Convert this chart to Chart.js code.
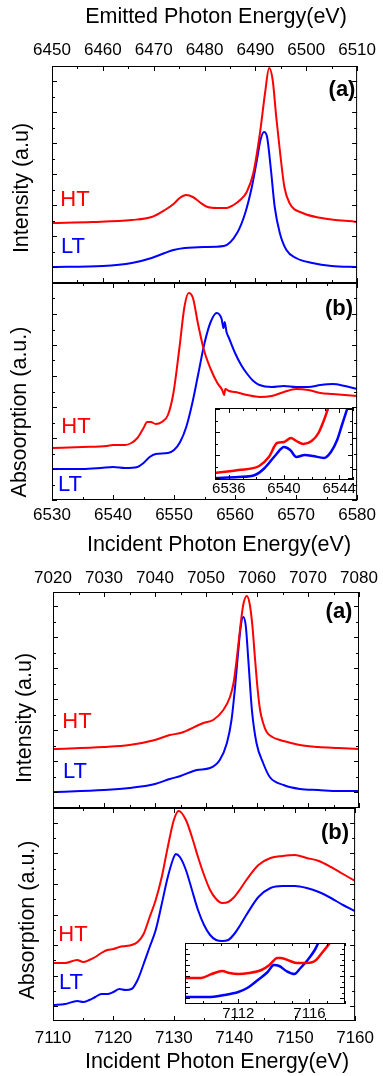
<!DOCTYPE html>
<html>
<head>
<meta charset="utf-8">
<script src="https://cdn.jsdelivr.net/npm/chart.js@4.4.1/dist/chart.umd.min.js"></script>
<style>
    html, body { margin: 0; padding: 0; background: #fff; }
    body { position: relative; width: 383px; height: 1076px; overflow: hidden; }
    canvas { position: absolute; }
</style>
</head>
<body>
<canvas id="mnEmit"></canvas>
<canvas id="mnAbs"></canvas>
<canvas id="mnInset"></canvas>
<canvas id="feEmit"></canvas>
<canvas id="feAbs"></canvas>
<canvas id="feInset"></canvas>
<script>
// ---- upper figure, (a) emission ----
const mnEmitTicks = [6450, 6460, 6470, 6480, 6490, 6500, 6510];
const mnEmitHT_E = [6450, 6458, 6465.7, 6469.6, 6472.2, 6473.9, 6475.1, 6476.4, 6477.7, 6479, 6480.6, 6482.5, 6484.4, 6485.7, 6487, 6488.3, 6489.6, 6490.9, 6491.9, 6492.7, 6493.4, 6494.1, 6494.8, 6495.7, 6496.7, 6499.3, 6503, 6510];
const mnEmitHT = [60, 61, 63, 66, 73, 79, 85, 88, 86, 81, 76, 75, 75, 78, 83, 91, 110, 150, 190, 215, 203, 166, 133, 96, 80, 70, 65, 61];
const mnEmitLT_E = [6450, 6460, 6465.7, 6469.6, 6472.2, 6473.9, 6476.1, 6479.9, 6483.8, 6486.4, 6488, 6489.3, 6490.3, 6491, 6491.7, 6492.3, 6493, 6493.8, 6494.8, 6496.1, 6498, 6501.2, 6505, 6510];
const mnEmitLT = [16, 17, 20, 25, 30, 33, 35, 36, 37, 50, 70, 96, 123, 143, 151, 146, 116, 76, 50, 33, 25, 20, 17, 16];

// ---- upper figure, (b) absorption ----
const mnAbsTicks = [6530, 6540, 6550, 6560, 6570, 6580];
const mnAbsHT_E = [6530, 6535, 6539, 6540, 6542, 6543, 6544, 6545, 6545.6, 6546.2, 6547, 6548, 6549, 6549.9, 6550.9, 6551.7, 6552.4, 6553.1, 6553.9, 6554.9, 6556, 6557.1, 6557.9, 6558.2, 6558.4, 6559, 6560, 6562, 6564, 6566, 6568, 6570, 6572, 6574, 6576, 6578, 6580];
const mnAbsHT = [52, 53, 54, 55, 55, 57, 62, 72, 78, 78, 76, 78, 85, 107, 153, 193, 207, 202, 177, 150, 131, 117, 110, 105, 111, 109, 108, 105, 103, 104, 108, 111, 110, 107, 106, 105, 104];
const mnAbsLT_E = [6530, 6535, 6538, 6540, 6542, 6544, 6545, 6546, 6547, 6549, 6550, 6551, 6552, 6553, 6554, 6555, 6556, 6557, 6557.8, 6558.1, 6558.3, 6558.6, 6559, 6560, 6561, 6562, 6563, 6564, 6566, 6568, 6570, 6572, 6574, 6576, 6578, 6580];
const mnAbsLT = [31, 31, 32, 33, 32, 33, 37, 43, 46, 47, 50, 58, 73, 97, 127, 157, 178, 187, 181, 172, 178, 168, 162, 147, 135, 126, 119, 115, 113, 114, 113, 113, 115, 116, 114, 111];

// inset: pre-edge
const mnInsetTicks = [6536, 6540, 6544];
const mnInsetHT_E = [6535, 6536.7, 6538.2, 6538.9, 6539.5, 6540, 6540.5, 6540.9, 6541.4, 6542, 6542.5, 6542.9, 6543.2, 6543.5];
const mnInsetHT = [7, 10, 14, 23, 37, 38, 42, 39, 36, 39, 47, 60, 72, 85];
const mnInsetLT_E = [6535, 6536.7, 6537.9, 6538.6, 6539.4, 6540, 6540.45, 6540.9, 6541.5, 6542.1, 6542.9, 6543.4, 6543.85, 6544.2, 6544.6, 6544.9];
const mnInsetLT = [2, 3, 5, 12, 25, 33, 30, 23, 25, 24, 22, 28, 40, 55, 72, 85];

// ---- lower figure, (a) emission ----
const feEmitTicks = [7020, 7030, 7040, 7050, 7060, 7070, 7080];
const feEmitHT_E = [7020, 7030, 7035, 7040, 7042.9, 7045, 7049.5, 7051.4, 7053.4, 7054.7, 7055.4, 7056, 7056.7, 7057.3, 7058, 7058.6, 7059.1, 7059.6, 7060.1, 7060.6, 7061.2, 7061.9, 7063, 7064.5, 7066, 7068.4, 7072, 7076, 7080];
const feEmitHT = [59, 61, 63, 68, 73, 75, 85, 88, 98, 111, 125, 148, 180, 203, 212, 203, 182, 150, 120, 98, 85, 76, 71, 68, 66, 63, 61, 60, 59];
const feEmitLT_E = [7020, 7030, 7035, 7040, 7042.9, 7045, 7048.2, 7050.8, 7052.7, 7054.1, 7055, 7055.7, 7056.2, 7056.8, 7057.3, 7057.8, 7058.3, 7059, 7059.9, 7061.2, 7062.5, 7065.2, 7068.4, 7072, 7076, 7080];
const feEmitLT = [16, 18, 20, 24, 29, 32, 38, 40, 48, 65, 88, 121, 150, 181, 191, 182, 148, 98, 65, 45, 31, 23, 19, 18, 17, 17];

// ---- lower figure, (b) absorption ----
const feAbsTicks = [7110, 7120, 7130, 7140, 7150, 7160];
const feAbsHT_E = [7110, 7112, 7114, 7115, 7116, 7117, 7118, 7119, 7120, 7121, 7122, 7123, 7124, 7125, 7126, 7127, 7128, 7129, 7130, 7130.8, 7132, 7133, 7134, 7135, 7136, 7137, 7138, 7139, 7140, 7141, 7142, 7144, 7146, 7148, 7150, 7152, 7154, 7156, 7158, 7160];
const feAbsHT = [58, 58, 61, 59, 61, 64, 68, 71, 72, 74, 75, 76, 79, 87, 104, 121, 144, 174, 201, 210, 201, 184, 164, 146, 131, 122, 118, 119, 124, 132, 141, 156, 163, 165, 166, 163, 160, 154, 147, 140];
const feAbsLT_E = [7110, 7112, 7114, 7115, 7116, 7117, 7118, 7119, 7120, 7121, 7122, 7123, 7124, 7125, 7126, 7127, 7128, 7129, 7130, 7130.3, 7131, 7132, 7133, 7134, 7135, 7136, 7137, 7138, 7139, 7140, 7141, 7142, 7144, 7146, 7148, 7150, 7152, 7154, 7156, 7158, 7160];
const feAbsLT = [16, 17, 20, 19, 21, 24, 27, 27, 29, 32, 31, 32, 41, 57, 74, 91, 117, 144, 164, 167, 164, 151, 131, 111, 96, 86, 81, 80, 81, 87, 96, 106, 124, 133, 135, 135, 133, 129, 123, 116, 110];

// inset: pre-edge
const feInsetTicks = [7112, 7116];
const feInsetHT_E = [7109, 7109.9, 7110.5, 7111.1, 7111.5, 7112, 7112.6, 7113.3, 7113.75, 7114.2, 7114.4, 7114.9, 7115.3, 7115.8, 7116.3, 7116.7, 7117.1, 7117.5];
const feInsetHT = [26, 26, 30, 33, 31, 30, 31, 34, 39, 46, 46, 43, 41, 41, 43, 51, 60, 70];
const feInsetLT_E = [7109, 7110.3, 7111.2, 7112, 7112.5, 7113.1, 7113.65, 7114, 7114.3, 7114.7, 7115.15, 7115.5, 7115.9, 7116.3, 7116.5, 7116.8];
const feInsetLT = [7, 7, 9, 12, 16, 24, 32, 39, 38, 33, 30, 36, 44, 54, 61, 70];

const RED = '#ff0000';
const BLUE = '#0000ff';
const SANS = '"Liberation Sans", Arial, sans-serif';
const TITLE_FONT = '21.5px ' + SANS;
const TAG_FONT = '22px ' + SANS;
const PANEL_FONT = 'bold 22px ' + SANS;

// frame with inward ticks on all four sides, plus free text labels
const framePlugin = {
    id: 'frame',
    beforeDatasetsDraw(chart, args, o) {
        if (!o.fill) return;
        const { ctx, chartArea: a } = chart;
        ctx.save();
        ctx.fillStyle = '#fff';
        ctx.fillRect(a.left, a.top, a.width, a.height);
        ctx.restore();
    },
    afterDraw(chart, args, o) {
        const { ctx, chartArea: a, scales: { x, y } } = chart;
        ctx.save();
        ctx.strokeStyle = '#000';
        ctx.lineWidth = 1;
        ctx.beginPath();
        const xMarks = (first, step, len) => {
            for (let v = first; v <= x.max + 1e-6; v += step) {
                const p = Math.round(x.getPixelForValue(v)) + 0.5;
                ctx.moveTo(p, a.top); ctx.lineTo(p, a.top + len);
                ctx.moveTo(p, a.bottom); ctx.lineTo(p, a.bottom - len);
            }
        };
        const yMarks = (first, step, len) => {
            for (let v = first; v <= y.max + 1e-6; v += step) {
                const p = Math.round(y.getPixelForValue(v)) + 0.5;
                ctx.moveTo(a.left, p); ctx.lineTo(a.left + len, p);
                ctx.moveTo(a.right, p); ctx.lineTo(a.right - len, p);
            }
        };
        xMarks(o.xMinor[0], o.xMinor[1], 3);
        xMarks(o.xMajor[0], o.xMajor[1], 5);
        yMarks(o.yMajor[0] + o.yMajor[1] / 2, o.yMajor[1], 3);
        yMarks(o.yMajor[0], o.yMajor[1], 5);
        ctx.stroke();
        ctx.strokeRect(a.left + 0.5, a.top + 0.5, a.width - 1, a.height - 1);

        ctx.textAlign = 'center';
        ctx.textBaseline = 'middle';
        for (const t of o.texts || []) {
            ctx.save();
            ctx.translate(t.x - o.offX, t.y - o.offY);
            if (t.rot) ctx.rotate(-Math.PI / 2);
            ctx.font = t.font;
            ctx.fillStyle = t.color || '#000';
            ctx.fillText(t.text, 0, 0);
            ctx.restore();
        }
        ctx.restore();
    },
};

function pts(xs, ys) {
    return xs.map((x, i) => ({ x, y: ys[i] }));
}

function panel(p) {
    const cv = document.getElementById(p.id);
    const [left, top, w, h] = p.box;
    cv.width = w;
    cv.height = h;
    Object.assign(cv.style, { left: left + 'px', top: top + 'px', width: w + 'px', height: h + 'px' });

    new Chart(cv, {
        type: 'line',
        data: {
            datasets: p.series.map(s => ({
                data: pts(s[0], s[1]),
                borderColor: s[2],
                borderWidth: p.lw,
                pointRadius: 0,
                fill: false,
                cubicInterpolationMode: 'monotone',
                clip: 0,
            })),
        },
        options: {
            responsive: false,
            animation: false,
            events: [],
            layout: { padding: p.pad },
            scales: {
                x: {
                    type: 'linear',
                    position: p.axis.pos,
                    min: p.axis.min,
                    max: p.axis.max,
                    grid: { display: false, drawTicks: false },
                    border: { display: false },
                    afterBuildTicks: ax => { ax.ticks = p.axis.labels.map(v => ({ value: v })); },
                    afterFit: ax => { ax.height = p.axis.h; },
                    ticks: {
                        autoSkip: false,
                        maxRotation: 0,
                        padding: p.axis.padding,
                        color: '#000',
                        font: { family: SANS, size: p.axis.size, lineHeight: 1 },
                        callback: v => String(v),
                    },
                },
                y: { type: 'linear', display: false, min: 0, max: p.yMax },
            },
            plugins: {
                legend: { display: false },
                tooltip: { enabled: false },
                frame: {
                    fill: !!p.fill,
                    xMajor: p.xMajor, xMinor: p.xMinor, yMajor: p.yMajor,
                    texts: p.texts, offX: left, offY: top,
                },
            },
        },
        plugins: [framePlugin],
    });
}

panel({
    id: 'mnEmit', box: [0, 0, 383, 290], pad: { top: 0, left: 52, right: 21, bottom: 7 },
    axis: { pos: 'top', min: 6450, max: 6510, labels: mnEmitTicks, h: 66, padding: 7, size: 17 },
    yMax: 217, lw: 2,
    xMajor: [6450, 10], xMinor: [6455, 10], yMajor: [16, 31],
    series: [[mnEmitHT_E, mnEmitHT, RED], [mnEmitLT_E, mnEmitLT, BLUE]],
    texts: [
        { text: 'Emitted Photon Energy(eV)', x: 216, y: 17, font: TITLE_FONT },
        { text: 'Intensity (a.u)', x: 22, y: 188, font: TITLE_FONT, rot: true },
        { text: 'HT', x: 75, y: 200, font: TAG_FONT, color: RED },
        { text: 'LT', x: 73, y: 247, font: TAG_FONT, color: BLUE },
        { text: '(a)', x: 342, y: 90, font: PANEL_FONT },
    ],
});

panel({
    id: 'mnAbs', box: [0, 277, 383, 288], pad: { top: 6, left: 52, right: 21, bottom: 0 },
    axis: { pos: 'bottom', min: 6530, max: 6580, labels: mnAbsTicks, h: 65, padding: 7, size: 17 },
    yMax: 217, lw: 2,
    xMajor: [6530, 10], xMinor: [6535, 10], yMajor: [0, 31],
    series: [[mnAbsHT_E, mnAbsHT, RED], [mnAbsLT_E, mnAbsLT, BLUE]],
    texts: [
        { text: 'Incident Photon Energy(eV)', x: 219, y: 545, font: TITLE_FONT },
        { text: 'Absoorption (a.u.)', x: 20, y: 412, font: TITLE_FONT, rot: true },
        { text: 'HT', x: 76, y: 427, font: TAG_FONT, color: RED },
        { text: 'LT', x: 70, y: 485, font: TAG_FONT, color: BLUE },
        { text: '(b)', x: 339, y: 309, font: PANEL_FONT },
    ],
});

panel({
    id: 'mnInset', box: [205, 400, 160, 100], pad: { top: 8, left: 10, right: 12, bottom: 0 },
    axis: { pos: 'bottom', min: 6535, max: 6545, labels: mnInsetTicks, h: 20, padding: 1, size: 15 },
    yMax: 72, lw: 2.5, fill: true,
    xMajor: [6536, 4], xMinor: [6535, 1], yMajor: [2, 23],
    series: [[mnInsetHT_E, mnInsetHT, RED], [mnInsetLT_E, mnInsetLT, BLUE]],
    texts: [],
});

panel({
    id: 'feEmit', box: [0, 560, 383, 254], pad: { top: 0, left: 53, right: 24, bottom: 6 },
    axis: { pos: 'top', min: 7020, max: 7080, labels: feEmitTicks, h: 32, padding: 5, size: 17 },
    yMax: 216, lw: 2,
    xMajor: [7020, 10], xMinor: [7025, 10], yMajor: [16, 31],
    series: [[feEmitHT_E, feEmitHT, RED], [feEmitLT_E, feEmitLT, BLUE]],
    texts: [
        { text: 'Intensity (a.u)', x: 25, y: 718, font: TITLE_FONT, rot: true },
        { text: 'HT', x: 77, y: 722, font: TAG_FONT, color: RED },
        { text: 'LT', x: 75, y: 772, font: TAG_FONT, color: BLUE },
        { text: '(a)', x: 339, y: 612, font: PANEL_FONT },
    ],
});

panel({
    id: 'feAbs', box: [0, 802, 383, 274], pad: { top: 6, left: 53, right: 24, bottom: 0 },
    axis: { pos: 'bottom', min: 7110, max: 7160, labels: feAbsTicks, h: 55, padding: 9, size: 17 },
    yMax: 213, lw: 2,
    xMajor: [7110, 10], xMinor: [7115, 10], yMajor: [15, 30.5],
    series: [[feAbsHT_E, feAbsHT, RED], [feAbsLT_E, feAbsLT, BLUE]],
    texts: [
        { text: 'Incident Photon Energy(eV)', x: 217, y: 1062, font: TITLE_FONT },
        { text: 'Absorption (a.u.)', x: 28, y: 920, font: TITLE_FONT, rot: true },
        { text: 'HT', x: 73, y: 935, font: TAG_FONT, color: RED },
        { text: 'LT', x: 71, y: 983, font: TAG_FONT, color: BLUE },
        { text: '(b)', x: 335, y: 833, font: PANEL_FONT },
    ],
});

panel({
    id: 'feInset', box: [180, 935, 175, 90], pad: { top: 8, left: 5, right: 10, bottom: 0 },
    axis: { pos: 'bottom', min: 7109, max: 7118, labels: feInsetTicks, h: 21, padding: 2, size: 15 },
    yMax: 61, lw: 2.5, fill: true,
    xMajor: [7112, 4], xMinor: [7109, 1], yMajor: [5.7, 11],
    series: [[feInsetHT_E, feInsetHT, RED], [feInsetLT_E, feInsetLT, BLUE]],
    texts: [],
});
</script>
</body>
</html>
